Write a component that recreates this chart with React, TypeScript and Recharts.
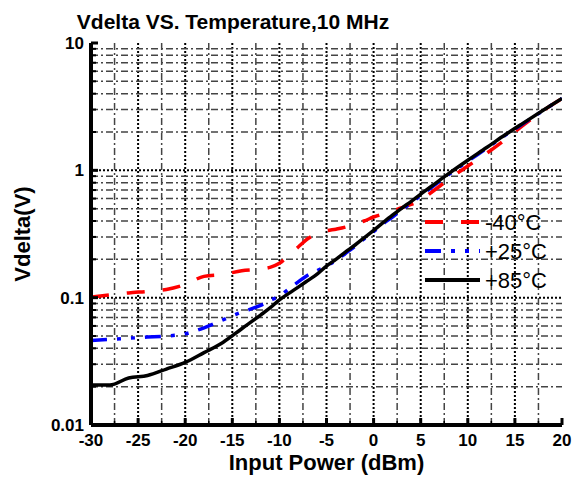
import React from "react";
import {
  LineChart,
  Line,
  XAxis,
  YAxis,
  ReferenceLine,
  Legend,
} from "recharts";

const FONT = "'Liberation Sans', Arial, Helvetica, sans-serif";

const titleText = "Vdelta VS. Temperature,10 MHz";
const xAxisTitle = "Input Power (dBm)";
const yAxisTitle = "Vdelta(V)";

const xPower = [
  -30, -28, -26, -24, -22, -20, -18, -16, -14, -12, -11, -10, -9, -8, -7, -6,
  -5, -4, -3, -2, -1, 0, 1, 2, 3, 4, 5, 6, 7, 8, 10, 12, 14, 16, 18, 20,
];
const vMinus40 = [
  0.101, 0.105, 0.109, 0.112, 0.116, 0.127, 0.147, 0.152, 0.163, 0.168, 0.173,
  0.186, 0.215, 0.25, 0.29, 0.318, 0.335, 0.345, 0.358, 0.378, 0.4, 0.43, 0.455,
  0.48, 0.51, 0.54, 0.58, 0.66, 0.75, 0.855, 1.08, 1.36, 1.75, 2.3, 2.95, 3.67,
];
const vPlus25 = [
  0.046, 0.047, 0.048, 0.049, 0.05, 0.052, 0.058, 0.067, 0.077, 0.087, 0.095,
  0.103, 0.117, 0.133, 0.15, 0.163, 0.178, 0.196, 0.222, 0.252, 0.29, 0.33, 0.38,
  0.43, 0.49, 0.555, 0.635, 0.72, 0.82, 0.93, 1.18, 1.49, 1.89, 2.36, 2.95, 3.67,
];
const vPlus85 = [
  0.0206, 0.0206, 0.0234, 0.0245, 0.0275, 0.031, 0.037, 0.0445, 0.057, 0.073,
  0.083, 0.096, 0.108, 0.121, 0.136, 0.153, 0.177, 0.2, 0.228, 0.258, 0.295,
  0.338, 0.388, 0.444, 0.505, 0.571, 0.65, 0.736, 0.835, 0.946, 1.2, 1.51, 1.91,
  2.38, 2.96, 3.67,
];

const seriesNames = ["-40°C", "+25°C", "+85°C"];
const seriesKeys = ["m40", "p25", "p85"];
const seriesColors = ["#ff0000", "#0000ff", "#000000"];
const seriesDash = ["18 18", "16 10 4 10 4 10", undefined];

const xTicks = [
  -30, -27.5, -25, -22.5, -20, -17.5, -15, -12.5, -10, -7.5, -5, -2.5, 0, 2.5, 5,
  7.5, 10, 12.5, 15, 17.5, 20,
];
const xMajorGrid = [-25, -20, -15, -10, -5, 0, 5, 10, 15];
const xMinorGrid = [
  -27.5, -22.5, -17.5, -12.5, -7.5, -2.5, 2.5, 7.5, 12.5, 17.5,
];
const yTicks = [
  0.01, 0.02, 0.03, 0.04, 0.05, 0.06, 0.07, 0.08, 0.09, 0.1, 0.2, 0.3, 0.4, 0.5,
  0.6, 0.7, 0.8, 0.9, 1, 2, 3, 4, 5, 6, 7, 8, 9, 10,
];
const yMajorGrid = [0.1, 1];
const yMinorGrid = [
  0.02, 0.03, 0.04, 0.05, 0.06, 0.07, 0.08, 0.09, 0.2, 0.3, 0.4, 0.5, 0.6, 0.7,
  0.8, 0.9, 2, 3, 4, 5, 6, 7, 8, 9,
];

const data = xPower.map((x, i) => ({
  x,
  m40: vMinus40[i],
  p25: vPlus25[i],
  p85: vPlus85[i],
}));

const isDecade = (v: number) =>
  Math.abs(Math.log10(v) - Math.round(Math.log10(v))) < 1e-9;

const BottomTick = (props: any) => {
  const { x, y, payload } = props;
  const v = payload.value;
  const major = v % 5 === 0;
  return (
    <g>
      <line
        x1={x}
        x2={x}
        y1={y}
        y2={y - (major ? 7 : 4)}
        stroke="#000"
        strokeWidth={major ? 3 : 1.5}
      />
      {major && (
        <text
          x={x}
          y={y + 21}
          textAnchor="middle"
          fontFamily={FONT}
          fontWeight="bold"
          fontSize={17}
          fill="#000"
        >
          {v}
        </text>
      )}
    </g>
  );
};

const TopTick = (props: any) => {
  const { x, y, payload } = props;
  const major = payload.value % 5 === 0;
  return (
    <line
      x1={x}
      x2={x}
      y1={y}
      y2={y + (major ? 7 : 4)}
      stroke="#000"
      strokeWidth={major ? 3 : 1.5}
    />
  );
};

const LeftTick = (props: any) => {
  const { x, y, payload } = props;
  const v = payload.value;
  const major = isDecade(v);
  return (
    <g>
      <line
        x1={x}
        x2={x + (major ? 7 : 5)}
        y1={y}
        y2={y}
        stroke="#000"
        strokeWidth={major ? 3 : 2}
      />
      {major && (
        <text
          x={x - 7}
          y={y}
          dy="0.36em"
          textAnchor="end"
          fontFamily={FONT}
          fontWeight="bold"
          fontSize={17}
          fill="#000"
        >
          {String(v)}
        </text>
      )}
    </g>
  );
};

const RightTick = (props: any) => {
  const { x, y, payload } = props;
  const major = isDecade(payload.value);
  return (
    <line
      x1={x}
      x2={x - (major ? 7 : 5)}
      y1={y}
      y2={y}
      stroke="#000"
      strokeWidth={major ? 3 : 2}
    />
  );
};

const YTitle = (props: any) => {
  const vb = props.viewBox || { x: 0, y: 43, width: 91, height: 382 };
  const cx = vb.x + 22;
  const cy = vb.y + vb.height / 2;
  return (
    <text
      x={cx}
      y={cy}
      transform={`rotate(-90 ${cx} ${cy})`}
      textAnchor="middle"
      dominantBaseline="central"
      fontFamily={FONT}
      fontWeight="bold"
      fontSize={22}
      fill="#000"
    >
      {yAxisTitle}
    </text>
  );
};

const XTitle = (props: any) => {
  const vb = props.viewBox || { x: 91, y: 425, width: 471, height: 54 };
  return (
    <text
      x={vb.x + vb.width / 2}
      y={vb.y + 45}
      textAnchor="middle"
      fontFamily={FONT}
      fontWeight="bold"
      fontSize={22}
      fill="#000"
    >
      {xAxisTitle}
    </text>
  );
};

const LegendBox = () => (
  <svg width={150} height={90} style={{ display: "block" }}>
    {seriesNames.map((name, i) => (
      <g key={name}>
        <line
          x1={0}
          x2={55}
          y1={14 + i * 29}
          y2={14 + i * 29}
          stroke={seriesColors[i]}
          strokeWidth={4}
          strokeDasharray={seriesDash[i]}
        />
        <text
          x={60}
          y={14 + i * 29}
          dy="0.36em"
          fontFamily={FONT}
          fontSize={22}
          fill="#000"
        >
          {name}
        </text>
      </g>
    ))}
  </svg>
);

export default function App() {
  return (
    <div
      style={{
        position: "fixed",
        left: 0,
        top: 0,
        width: 575,
        height: 479,
        overflow: "hidden",
        background: "#fff",
      }}
    >
      <div
        style={{
          position: "absolute",
          left: 0,
          width: 466,
          top: 11,
          textAlign: "center",
          fontFamily: FONT,
          fontWeight: "bold",
          fontSize: 21,
          lineHeight: "21px",
          color: "#000",
          zIndex: 2,
        }}
      >
        {titleText}
      </div>
      <LineChart
        width={575}
        height={479}
        data={data}
        margin={{ top: 43, right: 13, left: 0, bottom: 0 }}
      >
        {xMinorGrid.map((v) => (
          <ReferenceLine
            key={`xm${v}`}
            x={v}
            stroke="#444"
            strokeWidth={1.5}
            strokeDasharray="7 3 2 3"
          />
        ))}
        {xMajorGrid.map((v) => (
          <ReferenceLine
            key={`xM${v}`}
            x={v}
            stroke="#000"
            strokeWidth={2}
            strokeDasharray="2 2"
          />
        ))}
        {yMinorGrid.map((v) => (
          <ReferenceLine
            key={`ym${v}`}
            y={v}
            stroke="#444"
            strokeWidth={1.5}
            strokeDasharray="7 3 2 3"
          />
        ))}
        {yMajorGrid.map((v) => (
          <ReferenceLine
            key={`yM${v}`}
            y={v}
            stroke="#000"
            strokeWidth={2}
            strokeDasharray="2 2"
          />
        ))}
        <XAxis
          dataKey="x"
          type="number"
          domain={[-30, 20]}
          ticks={xTicks}
          interval={0}
          height={54}
          tickSize={0}
          tickMargin={0}
          tickLine={false}
          tick={<BottomTick />}
          axisLine={{ stroke: "#000", strokeWidth: 4 }}
          label={<XTitle />}
          allowDataOverflow
        />
        <XAxis
          xAxisId="top"
          orientation="top"
          dataKey="x"
          type="number"
          domain={[-30, 20]}
          ticks={xTicks}
          interval={0}
          height={0}
          tickSize={0}
          tickMargin={0}
          tickLine={false}
          tick={<TopTick />}
          axisLine={{ stroke: "#000", strokeWidth: 4 }}
          allowDataOverflow
        />
        <YAxis
          type="number"
          scale="log"
          domain={[0.01, 10]}
          ticks={yTicks}
          interval={0}
          width={91}
          tickSize={0}
          tickMargin={0}
          tickLine={false}
          tick={<LeftTick />}
          axisLine={{ stroke: "#000", strokeWidth: 4 }}
          label={<YTitle />}
          allowDataOverflow
        />
        <YAxis
          yAxisId="right"
          orientation="right"
          type="number"
          scale="log"
          domain={[0.01, 10]}
          ticks={yTicks}
          interval={0}
          width={0}
          tickSize={0}
          tickMargin={0}
          tickLine={false}
          tick={<RightTick />}
          axisLine={{ stroke: "#000", strokeWidth: 4 }}
          allowDataOverflow
        />
        {seriesKeys.map((k, i) => (
          <Line
            key={k}
            dataKey={k}
            name={seriesNames[i]}
            type="monotone"
            stroke={seriesColors[i]}
            strokeWidth={3.5}
            strokeDasharray={seriesDash[i]}
            dot={false}
            activeDot={false}
            isAnimationActive={false}
          />
        ))}
        <Legend
          layout="horizontal"
          align="center"
          verticalAlign="middle"
          content={<LegendBox />}
          wrapperStyle={{ position: "absolute", left: 425, top: 208, width: 150 }}
        />
      </LineChart>
    </div>
  );
}
